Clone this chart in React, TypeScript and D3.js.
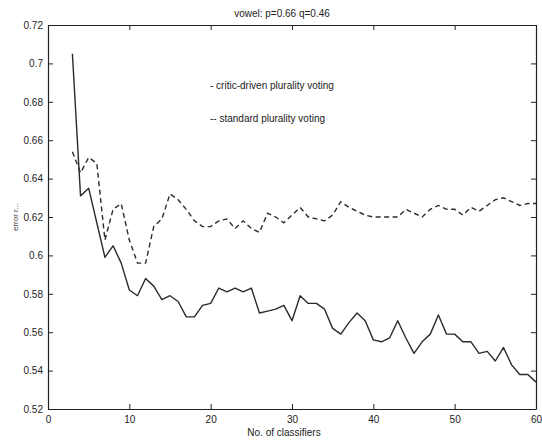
import React, { useEffect, useRef } from 'react';
import * as d3 from 'd3';

// number of classifiers, 3..60
const classifiers = [
  3, 4, 5, 6, 7, 8, 9, 10, 11, 12, 13, 14, 15, 16, 17, 18, 19, 20, 21, 22,
  23, 24, 25, 26, 27, 28, 29, 30, 31, 32, 33, 34, 35, 36, 37, 38, 39, 40, 41, 42,
  43, 44, 45, 46, 47, 48, 49, 50, 51, 52, 53, 54, 55, 56, 57, 58, 59, 60,
];

// solid line
const criticDriven = [
  0.705, 0.631, 0.635, 0.617, 0.599, 0.605, 0.596, 0.582, 0.579, 0.588,
  0.584, 0.577, 0.579, 0.576, 0.568, 0.568, 0.574, 0.575, 0.583, 0.581,
  0.583, 0.581, 0.583, 0.570, 0.571, 0.572, 0.574, 0.566, 0.579, 0.575,
  0.575, 0.572, 0.562, 0.559, 0.565, 0.570, 0.566, 0.556, 0.555, 0.557,
  0.566, 0.557, 0.549, 0.555, 0.559, 0.569, 0.559, 0.559, 0.555, 0.555,
  0.549, 0.550, 0.545, 0.552, 0.543, 0.538, 0.538, 0.534,
];

// dashed line
const standard = [
  0.654, 0.643, 0.651, 0.648, 0.608, 0.624, 0.627, 0.608, 0.596, 0.596,
  0.615, 0.619, 0.632, 0.629, 0.624, 0.618, 0.615, 0.615, 0.618, 0.619,
  0.614, 0.618, 0.614, 0.612, 0.622, 0.620, 0.617, 0.621, 0.625, 0.620,
  0.619, 0.618, 0.621, 0.628, 0.625, 0.623, 0.621, 0.620, 0.620, 0.620,
  0.620, 0.624, 0.622, 0.620, 0.624, 0.626, 0.624, 0.624, 0.621, 0.625,
  0.623, 0.626, 0.629, 0.630, 0.628, 0.626, 0.627, 0.627,
];

const xTicks = [0, 10, 20, 30, 40, 50, 60];
const yTicks = [0.52, 0.54, 0.56, 0.58, 0.6, 0.62, 0.64, 0.66, 0.68, 0.7, 0.72];

const legendLabels = ['- critic-driven plurality voting', '-- standard plurality voting'];

const width = 542;
const height = 443;
const font = '"Liberation Sans", Arial, Helvetica, sans-serif';
const ink = '#222';

const App = () => {
  const ref = useRef(null);

  useEffect(() => {
    const svg = d3.select(ref.current);
    svg.selectAll('*').remove();

    const margin = { top: 25, right: 6, bottom: 34, left: 48 };
    const innerWidth = width - margin.left - margin.right;
    const innerHeight = height - margin.top - margin.bottom;

    const x = d3.scaleLinear().domain([0, 60]).range([0, innerWidth]);
    const y = d3.scaleLinear().domain([0.52, 0.72]).range([innerHeight, 0]);

    const g = svg.append('g')
      .attr('transform', `translate(${margin.left},${margin.top})`);

    const styleAxis = sel => {
      sel.select('.domain').attr('stroke', ink).attr('stroke-width', 1.2);
      sel.selectAll('line').attr('stroke', ink).attr('stroke-width', 1);
      sel.selectAll('text')
        .attr('fill', ink)
        .style('font-family', font)
        .style('font-size', '10px');
    };

    // bottom / left axes with labels, ticks point inward
    g.append('g')
      .attr('transform', `translate(0,${innerHeight})`)
      .call(d3.axisBottom(x).tickValues(xTicks).tickSizeInner(-5).tickSizeOuter(0).tickPadding(7))
      .call(styleAxis);

    g.append('g')
      .call(d3.axisLeft(y).tickValues(yTicks).tickFormat(d3.format('.2~f'))
        .tickSizeInner(-5).tickSizeOuter(0).tickPadding(5))
      .call(styleAxis);

    // top / right axes, ticks only
    g.append('g')
      .call(d3.axisTop(x).tickValues(xTicks).tickFormat(() => '').tickSizeInner(-5).tickSizeOuter(0))
      .call(styleAxis);

    g.append('g')
      .attr('transform', `translate(${innerWidth},0)`)
      .call(d3.axisRight(y).tickValues(yTicks).tickFormat(() => '').tickSizeInner(-5).tickSizeOuter(0))
      .call(styleAxis);

    const line = d3.line()
      .x(d => x(d[0]))
      .y(d => y(d[1]));

    g.append('path')
      .datum(classifiers.map((c, i) => [c, criticDriven[i]]))
      .attr('d', line)
      .attr('fill', 'none')
      .attr('stroke', '#2b2b2b')
      .attr('stroke-width', 1.4)
      .attr('stroke-linejoin', 'round');

    g.append('path')
      .datum(classifiers.map((c, i) => [c, standard[i]]))
      .attr('d', line)
      .attr('fill', 'none')
      .attr('stroke', '#2b2b2b')
      .attr('stroke-width', 1.4)
      .attr('stroke-dasharray', '5,3.5');

    // legend (text only, like the scan)
    svg.selectAll('.legend')
      .data(legendLabels)
      .enter()
      .append('text')
      .attr('class', 'legend')
      .attr('x', 210)
      .attr('y', (d, i) => 89 + i * 33)
      .attr('fill', ink)
      .style('font-family', font)
      .style('font-size', '10px')
      .text(d => d);

    // title
    svg.append('text')
      .attr('x', 282)
      .attr('y', 17)
      .attr('text-anchor', 'middle')
      .attr('fill', ink)
      .style('font-family', font)
      .style('font-size', '10px')
      .text('vowel: p=0.66 q=0.46');

    // x label
    svg.append('text')
      .attr('x', 284)
      .attr('y', 436)
      .attr('text-anchor', 'middle')
      .attr('fill', ink)
      .style('font-family', font)
      .style('font-size', '10px')
      .text('No. of classifiers');

    // y label
    svg.append('text')
      .attr('transform', 'translate(18,217) rotate(-90)')
      .attr('text-anchor', 'middle')
      .attr('fill', '#444')
      .style('font-family', font)
      .style('font-size', '8px')
      .text('error r...');
  }, []);

  return (
    <svg
      ref={ref}
      width={width}
      height={height}
      style={{ position: 'absolute', left: 0, top: 0, background: '#fff' }}
    />
  );
};

export default App;
